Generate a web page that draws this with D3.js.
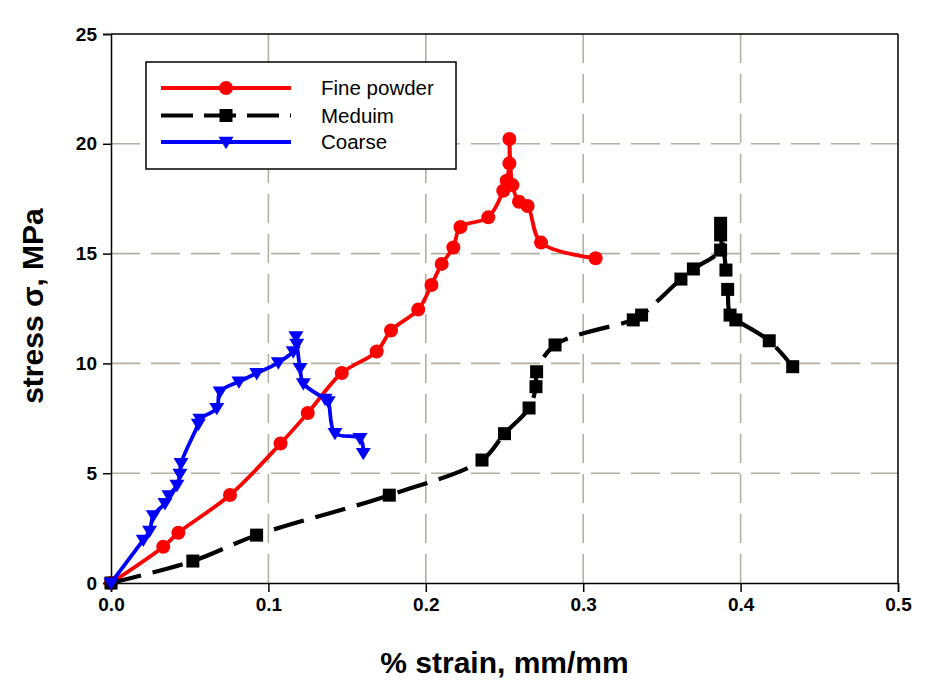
<!DOCTYPE html>
<html>
<head>
<meta charset="utf-8">
<script src="https://cdn.jsdelivr.net/npm/d3@7"></script>
<style>
  html, body { margin: 0; padding: 0; background: #ffffff; }
  svg { display: block; }
  text { font-family: "Liberation Sans", Arial, sans-serif; }
</style>
</head>
<body>
<svg id="chart" width="925" height="682"></svg>
<script>
// ---- data ----
const seriesNames = ["Fine powder", "Meduim", "Coarse"];

const fineStrain = [0, 0.0332, 0.0428, 0.0756, 0.1077, 0.125, 0.1466, 0.1688, 0.1779, 0.1952, 0.2036, 0.2101, 0.2175, 0.222, 0.2397, 0.2492, 0.2514, 0.2531, 0.2531, 0.255, 0.2592, 0.2647, 0.2732, 0.3079];
const fineStress = [0, 1.65, 2.29, 4.01, 6.35, 7.74, 9.56, 10.54, 11.5, 12.45, 13.57, 14.53, 15.28, 16.21, 16.65, 17.86, 18.32, 19.11, 20.22, 18.12, 17.36, 17.17, 15.5, 14.79];

const mediumStrain = [0, 0.052, 0.0925, 0.1768, 0.2357, 0.25, 0.2656, 0.27, 0.2704, 0.2821, 0.3318, 0.3371, 0.3621, 0.37, 0.3873, 0.3873, 0.3873, 0.3907, 0.3918, 0.3933, 0.397, 0.4182, 0.4331];
const mediumStress = [0, 1.0, 2.18, 4.0, 5.6, 6.8, 7.97, 8.94, 9.62, 10.84, 11.98, 12.2, 13.84, 14.3, 15.16, 15.85, 16.38, 14.25, 13.37, 12.2, 11.98, 11.03, 9.85];

const coarseStrain = [0, 0.0205, 0.0245, 0.0269, 0.0343, 0.0368, 0.0419, 0.0438, 0.0445, 0.0555, 0.0565, 0.0672, 0.0693, 0.0813, 0.0926, 0.1063, 0.1158, 0.118, 0.1175, 0.1201, 0.1222, 0.136, 0.138, 0.1423, 0.1582, 0.1603];
const coarseStress = [0, 1.96, 2.37, 3.07, 3.63, 3.98, 4.46, 4.96, 5.45, 7.24, 7.47, 7.96, 8.71, 9.17, 9.55, 10.04, 10.54, 10.88, 11.22, 9.78, 9.09, 8.38, 8.26, 6.82, 6.59, 5.91];

const xTicks = [0, 0.1, 0.2, 0.3, 0.4, 0.5];
const yTicks = [0, 5, 10, 15, 20, 25];
const xTitle = "% strain, mm/mm";
const yTitle = "stress σ, MPa";

// ---- layout ----
const svg = d3.select("#chart");
const L = 111, R = 898, T = 34, B = 583;

const x = d3.scaleLinear().domain([0, 0.5]).range([L, R]);
const y = d3.scaleLinear().domain([0, 25]).range([B, T]);

// grid
const grid = svg.append("g");
grid.selectAll("line.gx").data(xTicks.filter(d => d > 0 && d < 0.5)).enter()
  .append("line")
  .attr("x1", d => x(d)).attr("x2", d => x(d))
  .attr("y1", B).attr("y2", T)
  .attr("stroke", "#b4b0a4").attr("stroke-width", 1.6)
  .attr("stroke-dasharray", "29,11");
grid.selectAll("line.gy").data(yTicks.filter(d => d > 0 && d < 25)).enter()
  .append("line")
  .attr("x1", L).attr("x2", R)
  .attr("y1", d => y(d)).attr("y2", d => y(d))
  .attr("stroke", "#b4b0a4").attr("stroke-width", 1.6)
  .attr("stroke-dasharray", "29,11");

// frame (top & right)
svg.append("line").attr("x1", L).attr("x2", R).attr("y1", T).attr("y2", T)
  .attr("stroke", "#000").attr("stroke-width", 1.5);
svg.append("line").attr("x1", R).attr("x2", R).attr("y1", T).attr("y2", B)
  .attr("stroke", "#000").attr("stroke-width", 1.5);

// axes
const xAxis = d3.axisBottom(x).tickValues(xTicks).tickFormat(d3.format(".1f")).tickSizeOuter(0).tickSize(9).tickPadding(6);
const yAxis = d3.axisLeft(y).tickValues(yTicks).tickFormat(d3.format("d")).tickSizeOuter(0).tickSize(8).tickPadding(6);

const gx = svg.append("g").attr("transform", `translate(0,${B})`).call(xAxis);
const gy = svg.append("g").attr("transform", `translate(${L},0)`).call(yAxis);
[gx, gy].forEach(g => {
  g.select(".domain").attr("stroke", "#000").attr("stroke-width", 1.5);
  g.selectAll(".tick line").attr("stroke", "#000").attr("stroke-width", 1.5);
  g.selectAll(".tick text").attr("fill", "#000")
    .style("font-family", "'Liberation Sans', Arial, sans-serif")
    .style("font-size", "19px").style("font-weight", "bold");
});

// titles
svg.append("text").attr("x", (L + R) / 2).attr("y", 673)
  .attr("text-anchor", "middle")
  .style("font-size", "30px").style("font-weight", "bold")
  .text(xTitle);
svg.append("text")
  .attr("transform", `translate(43,306) rotate(-90)`)
  .attr("text-anchor", "middle")
  .style("font-size", "30px").style("font-weight", "bold")
  .text(yTitle);

// series
const series = [
  { name: seriesNames[0], xs: fineStrain, ys: fineStress, color: "#ff0000", dash: null, marker: "circle", width: 3.8 },
  { name: seriesNames[1], xs: mediumStrain, ys: mediumStress, color: "#000000", dash: "31,12", marker: "square", width: 4.2 },
  { name: seriesNames[2], xs: coarseStrain, ys: coarseStress, color: "#0000ff", dash: null, marker: "triangle", width: 3.8 }
];

const line = d3.line().x(d => x(d[0])).y(d => y(d[1])).curve(d3.curveCatmullRom.alpha(0.5));

function drawMarker(g, type, cx, cy, color) {
  if (type === "circle") {
    g.append("circle").attr("cx", cx).attr("cy", cy).attr("r", 7).attr("fill", color);
  } else if (type === "square") {
    g.append("rect").attr("x", cx - 6.5).attr("y", cy - 6.5).attr("width", 13).attr("height", 13).attr("fill", color);
  } else {
    const s = 7.5;
    g.append("path").attr("d", `M${cx - s},${cy - s * 0.7} L${cx + s},${cy - s * 0.7} L${cx},${cy + s * 0.95} Z`).attr("fill", color);
  }
}

const plot = svg.append("g");
series.forEach(s => {
  const pts = s.xs.map((v, i) => [v, s.ys[i]]);
  plot.append("path").datum(pts).attr("d", line)
    .attr("fill", "none").attr("stroke", s.color).attr("stroke-width", s.width)
    .attr("stroke-linejoin", "round")
    .attr("stroke-dasharray", s.dash);
  const mg = plot.append("g");
  pts.forEach(p => drawMarker(mg, s.marker, x(p[0]), y(p[1]), s.color));
});

// legend
const lg = svg.append("g");
lg.append("rect").attr("x", 146).attr("y", 62).attr("width", 310).attr("height", 107)
  .attr("fill", "#ffffff").attr("stroke", "#000").attr("stroke-width", 1.5);
const rowY = [88, 115.5, 142];
series.forEach((s, i) => {
  lg.append("line").attr("x1", 161).attr("x2", 291).attr("y1", rowY[i]).attr("y2", rowY[i])
    .attr("stroke", s.color).attr("stroke-width", s.width)
    .attr("stroke-dasharray", s.dash ? "32,11" : null);
  drawMarker(lg, s.marker, 226, rowY[i], s.color);
  lg.append("text").attr("x", 321).attr("y", rowY[i] + 7)
    .style("font-size", "20.5px").attr("fill", "#000").text(s.name);
});
</script>
</body>
</html>
